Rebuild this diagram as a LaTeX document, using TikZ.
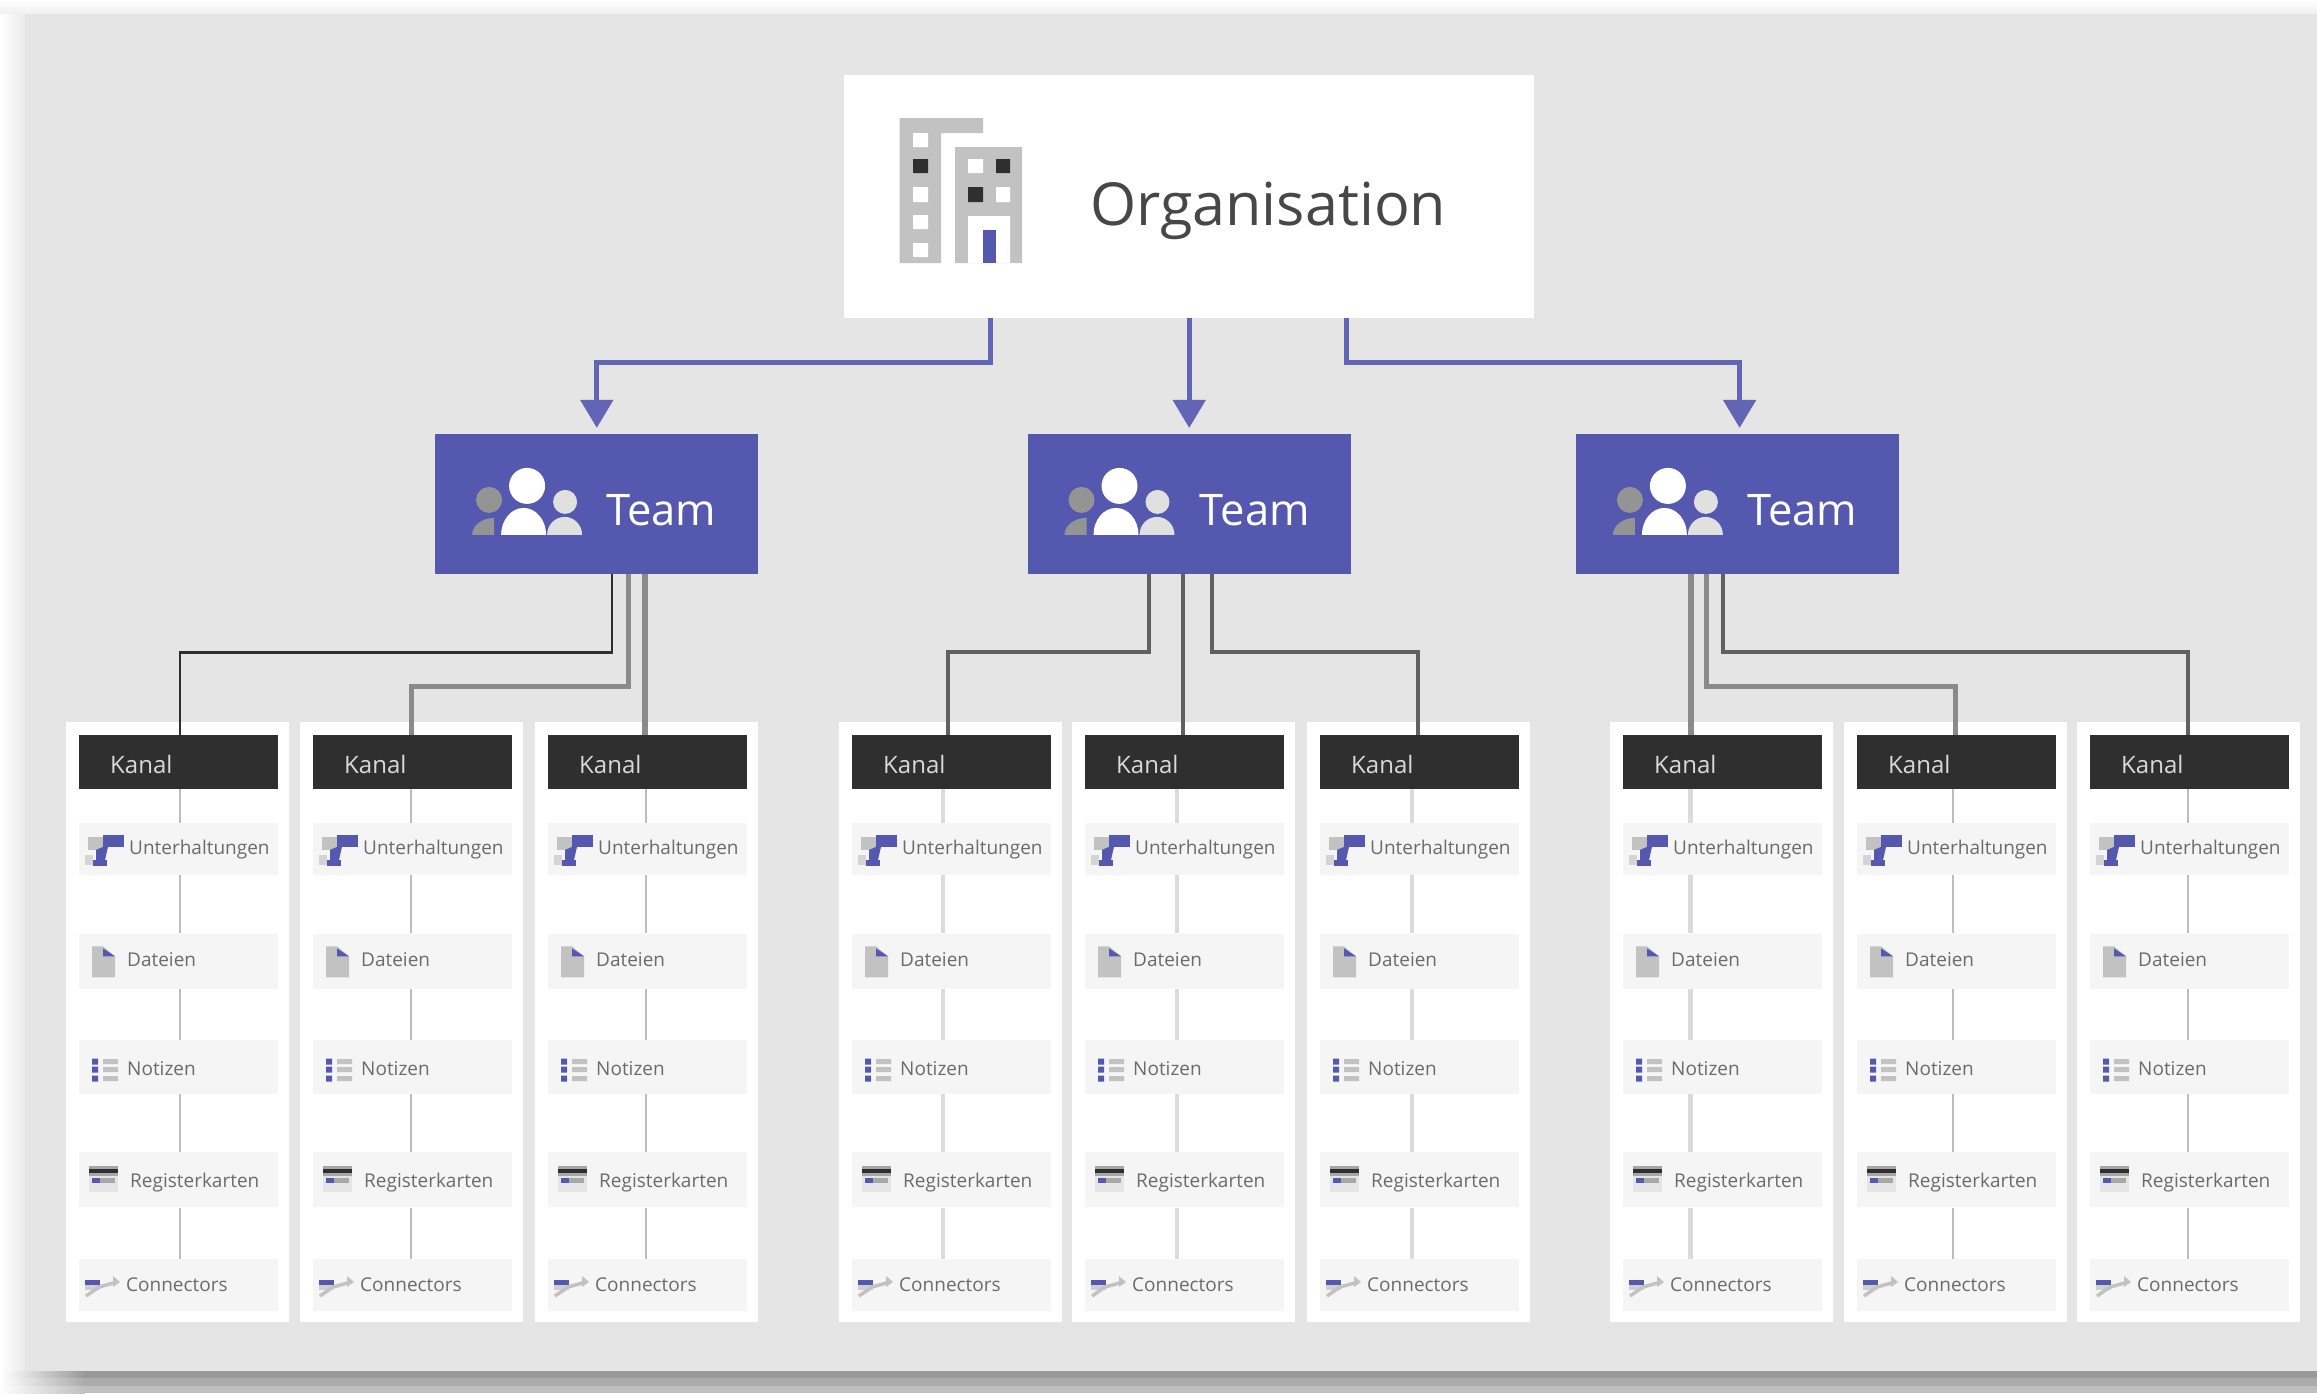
\documentclass[tikz,border=0pt]{standalone}
\usepackage{fontspec}
\setmainfont{Open Sans}
\usetikzlibrary{positioning, arrows.meta}

\definecolor{teamblue}{HTML}{5558AF}
\definecolor{orgline}{HTML}{6265B6}
\definecolor{paper}{HTML}{E5E5E5}
\definecolor{kanalblack}{HTML}{2F2F2F}
\definecolor{rowgray}{HTML}{F5F5F5}
\definecolor{icongray}{HTML}{C2C2C2}

\tikzset{
  orgbox/.style={fill=white,minimum width=690pt,minimum height=243pt,inner sep=0pt},
  teambox/.style={fill=teamblue,minimum width=323pt,minimum height=140pt,inner sep=0pt},
  panel/.style={fill=white,minimum width=223pt,minimum height=600pt,inner sep=0pt},
  kanal/.style={fill=kanalblack,minimum width=199pt,minimum height=54pt,inner sep=0pt},
  row/.style={fill=rowgray,minimum width=199pt,inner sep=0pt},
  orgtext/.style={inner sep=0pt,text=black!72,font=\fontsize{59.3}{62}\selectfont},
  teamtext/.style={inner sep=0pt,text=white,font=\fontsize{43.5}{46}\selectfont},
  kanaltext/.style={inner sep=0pt,text=white!85!black,font=\fontsize{24}{26}\selectfont},
  rowtext/.style={inner sep=0pt,text=black!58,font=\fontsize{19}{21}\selectfont},
  orglink/.style={draw=orgline,line width=5pt,->,shorten >=6pt},
  linkdark/.style={draw=kanalblack,line width=2.5pt},
  linkmid/.style={draw=black!62,line width=4pt},
  linkgray/.style={draw=black!46,line width=6pt},
  thinrow/.style={draw=black!26,line width=2.5pt},
  widerow/.style={draw=black!14,line width=4.5pt},
  shadowband/.style={shade,left color=white},
  pics/tower/.style={code={
    \fill[icongray] (55.5,43) rectangle (139,58) (55.5,58) rectangle (97,188) (111,72) rectangle (178,188);
    \fill[white] (69,58) rectangle (84,72) (69,112) rectangle (84,127) (69,140) rectangle (84,154) (69,168) rectangle (84,182)
      (124,84) rectangle (139,98) (152,112) rectangle (166,127) (124,141) rectangle (166,188);
    \fill[kanalblack] (69,84) rectangle (84,98) (152,84) rectangle (166,98) (124,112) rectangle (139,127);
    \fill[teamblue] (139,155) rectangle (152,188);
  }},
  pics/people/.style={code={
    \fill[black!42] (54,66) circle[radius=13pt];
    \fill[black!42] (37,101) arc[start angle=180,end angle=90,x radius=22pt,y radius=17pt] -- (59,101) -- cycle;
    \fill[white!88!black] (130,68) circle[radius=12pt];
    \fill[white!88!black] (112,101) arc[start angle=180,end angle=0,x radius=17.5pt,y radius=18pt] -- cycle;
    \fill[white] (92,52) circle[radius=18pt];
    \fill[white] (66,101) arc[start angle=180,end angle=0,x radius=22.5pt,y radius=27pt] -- cycle;
  }},
  pics/chaticon/.style={code={
    \fill[icongray] (9,14) rectangle (24,27);
    \fill[black!17] (6,32) rectangle (14,42);
    \fill[teamblue] (24,12) rectangle (45,24);
    \fill[teamblue] (24,24) -- (29,24) -- (26,37) -- (17,37) -- (17,27) -- cycle;
    \fill[teamblue] (14,37) rectangle (28,43);
  }},
  pics/fileicon/.style={code={
    \fill[icongray] (13,13) -- (24,13) -- (36,23) -- (36,44) -- (13,44) -- cycle;
    \fill[teamblue] (24,15) -- (36,23) -- (24,23) -- cycle;
  }},
  pics/listicon/.style={code={
    \fill[teamblue] (13,19) rectangle (19,25) (13,27) rectangle (19,33) (13,36) rectangle (19,42);
    \fill[icongray] (24,19.5) rectangle (39,24.5) (24,27.5) rectangle (39,32.5) (24,36.5) rectangle (39,41.5);
  }},
  pics/tabicon/.style={code={
    \fill[black!35] (10,14) rectangle (39,24);
    \fill[kanalblack] (10,17) rectangle (39,21);
    \fill[black!10] (10,24) rectangle (39,40);
    \fill[teamblue] (13,26) rectangle (21,31);
    \fill[black!34] (21,26) rectangle (36,31);
  }},
  pics/linkicon/.style={code={
    \fill[black!19] (6,26) rectangle (21,31);
    \fill[teamblue] (6,21) rectangle (21,26);
    \draw[icongray,line width=3.5pt] (7,37) -- (20,28) -- (38,23);
    \fill[icongray] (34,17) -- (41,23) -- (34,28) -- cycle;
  }}
}

% one white column: name, left edge, shift of the inner line, style of the inner line
\newcommand{\kanalcol}[4]{%
  \node[panel, anchor=north west] (#1) at (#2,722) {};
  \node[kanal, below=13pt of #1.north, xshift=1pt] (#1-k) {};
  \node[row, minimum height=52pt, below=33.5pt of #1-k] (#1-a) {};
  \node[row, minimum height=55pt, below=58pt of #1-a] (#1-b) {};
  \node[row, minimum height=54pt, below=51pt of #1-b] (#1-c) {};
  \node[row, minimum height=55pt, below=58pt of #1-c] (#1-d) {};
  \node[row, minimum height=52pt, below=51.5pt of #1-d] (#1-e) {};
  \draw[#4] ([xshift=#3pt]#1-k.south) -- ([xshift=#3pt]#1-a.north);
  \draw[#4] ([xshift=#3pt]#1-a.south) -- ([xshift=#3pt]#1-b.north);
  \draw[#4] ([xshift=#3pt]#1-b.south) -- ([xshift=#3pt]#1-c.north);
  \draw[#4] ([xshift=#3pt]#1-c.south) -- ([xshift=#3pt]#1-d.north);
  \draw[#4] ([xshift=#3pt]#1-d.south) -- ([xshift=#3pt]#1-e.north);
  \node[kanaltext, anchor=base west] (#1-kt) at ([xshift=31pt,yshift=-11pt]#1-k.west) {Kanal};
  \node[rowtext, anchor=base west] (#1-at) at ([xshift=50pt,yshift=-5pt]#1-a.west) {Unterhaltungen};
  \node[rowtext, anchor=base west] (#1-bt) at ([xshift=48pt,yshift=-5.5pt]#1-b.west) {Dateien};
  \node[rowtext, anchor=base west] (#1-ct) at ([xshift=48pt,yshift=-9pt]#1-c.west) {Notizen};
  \node[rowtext, anchor=base west] (#1-dt) at ([xshift=51pt,yshift=-7.5pt]#1-d.west) {Registerkarten};
  \node[rowtext, anchor=base west] (#1-et) at ([xshift=47pt,yshift=-6.5pt]#1-e.west) {Connectors};
  \pic at (#1-a.north west) {chaticon};
  \pic at (#1-b.north west) {fileicon};
  \pic at (#1-c.north west) {listicon};
  \pic at (#1-d.north west) {tabicon};
  \pic at (#1-e.north west) {linkicon};
}

\begin{document}
\begin{tikzpicture}[x=1pt, y=-1pt, >={Stealth[inset=0pt,length=28pt,width=32pt]}]
    \useasboundingbox (0,0) rectangle (2317,1393);

    % page with its soft shadow
    \shade[top color=white, bottom color=black!6] (0,0) rectangle (2317,14);
    \shade[left color=white, right color=black!8] (0,14) rectangle (25,1371);
    \fill[paper] (25,14) rectangle (2317,1371);
    \shade[shadowband, right color=black!40] (0,1371) rectangle (85,1378);
    \shade[shadowband, right color=black!33] (0,1378) rectangle (85,1386);
    \shade[shadowband, right color=black!25] (0,1386) rectangle (85,1393);
    \fill[black!40] (85,1371) rectangle (2317,1378);
    \fill[black!33] (85,1378) rectangle (2317,1386);
    \fill[black!25] (85,1386) rectangle (2317,1393);

    \node[orgbox, anchor=north west] (org) at (844,75) {};
    \node[teambox, below=115.5pt of org] (team-2) {};
    \node[teambox, left=269pt of team-2] (team-1) {};
    \node[teambox, right=225pt of team-2] (team-3) {};

    \pic at (org.north west) {tower};
    \node[orgtext, anchor=base west] (org-t) at ([xshift=246pt,yshift=-150pt]org.north west) {Organisation};

    \pic at (team-1.north west) {people};
    \pic at (team-2.north west) {people};
    \pic at (team-3.north west) {people};
    \node[teamtext, anchor=base west] (team-1-t) at ([xshift=171pt,yshift=-92pt]team-1.north west) {Team};
    \node[teamtext, anchor=base west] (team-2-t) at ([xshift=172pt,yshift=-92pt]team-2.north west) {Team};
    \node[teamtext, anchor=base west] (team-3-t) at ([xshift=171pt,yshift=-92pt]team-3.north west) {Team};

    \draw[orglink] ([xshift=-199pt]org.south) -- ++(0,44) -| (team-1.north);
    \draw[orglink] (org.south) -- (team-2.north);
    \draw[orglink] ([xshift=157pt]org.south) -- ++(0,44) -| ([xshift=2pt]team-3.north);

    \kanalcol{k-1-1}{66}{1.5}{thinrow}
    \kanalcol{k-1-2}{300}{-1.5}{thinrow}
    \kanalcol{k-1-3}{535}{-1.5}{thinrow}

    \kanalcol{k-2-1}{839}{-8.5}{widerow}
    \kanalcol{k-2-2}{1072}{-7.5}{widerow}
    \kanalcol{k-2-3}{1307}{-7.5}{widerow}

    \kanalcol{k-3-1}{1610}{-32}{widerow}
    \kanalcol{k-3-2}{1844}{-3.5}{thinrow}
    \kanalcol{k-3-3}{2077}{-1.5}{thinrow}

    \draw[linkdark] ([xshift=15pt]team-1.south) -- ++(0,78) -| ([xshift=1.5pt]k-1-1-k.north);
    \draw[linkgray, line width=5pt] ([xshift=32pt]team-1.south) -- ++(0,112) -| ([xshift=-1.5pt]k-1-2-k.north);
    \draw[linkgray] ([xshift=48pt]team-1.south) -- ([xshift=48pt]team-1.south |- k-1-3-k.north);

    \draw[linkmid] ([xshift=-40pt]team-2.south) -- ++(0,78) -| ([xshift=-3.5pt]k-2-1-k.north);
    \draw[linkmid] ([xshift=-6pt]team-2.south) -- ([xshift=-6pt]team-2.south |- k-2-2-k.north);
    \draw[linkmid] ([xshift=23pt]team-2.south) -- ++(0,78) -| ([xshift=-1.5pt]k-2-3-k.north);

    \draw[linkgray] ([xshift=-47pt]team-3.south) -- ([xshift=-47pt]team-3.south |- k-3-1-k.north);
    \draw[linkgray, line width=5pt] ([xshift=-31pt]team-3.south) -- ++(0,112) -| ([xshift=-1.5pt]k-3-2-k.north);
    \draw[linkmid] ([xshift=-15pt]team-3.south) -- ++(0,78) -| ([xshift=-1.5pt]k-3-3-k.north);
\end{tikzpicture}
\end{document}
